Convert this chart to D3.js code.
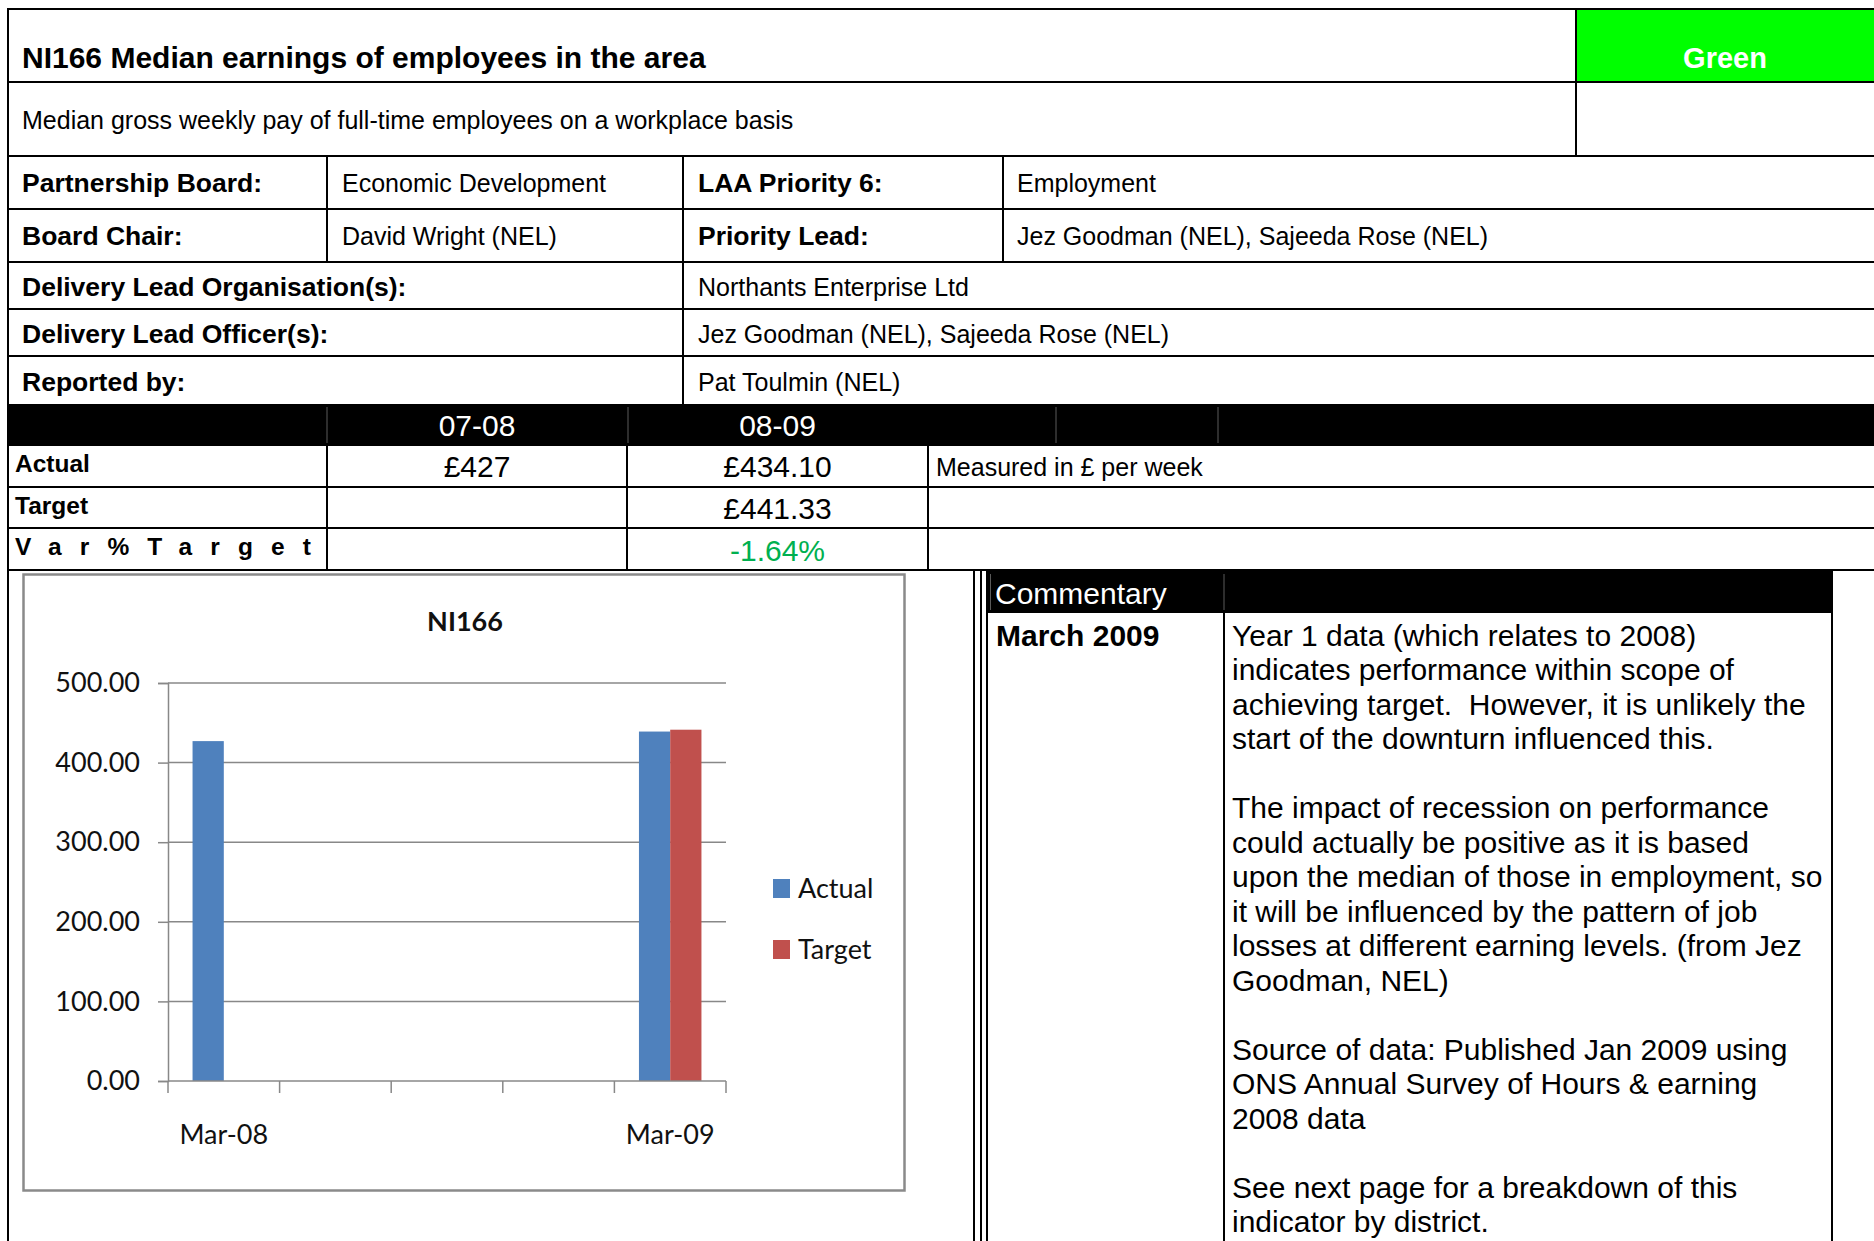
<!DOCTYPE html>
<html><head><meta charset="utf-8">
<script src="https://cdn.jsdelivr.net/npm/d3@7"></script>
<style>
html,body{margin:0;padding:0;background:#fff;overflow:hidden}
svg{display:block}
</style></head>
<body>
<svg id="page" width="1874" height="1241"></svg>
<script>
// ---------------- data ----------------
const indicatorTitle = "NI166 Median earnings of employees in the area";
const indicatorDescription = "Median gross weekly pay of full-time employees on a workplace basis";
const ragStatus = "Green";
const infoLabels = ["Partnership Board:", "Board Chair:", "Delivery Lead Organisation(s):", "Delivery Lead Officer(s):", "Reported by:"];
const infoValues = ["Economic Development", "David Wright (NEL)", "Northants Enterprise Ltd", "Jez Goodman (NEL), Sajeeda Rose (NEL)", "Pat Toulmin (NEL)"];
const priorityLabels = ["LAA Priority 6:", "Priority Lead:"];
const priorityValues = ["Employment", "Jez Goodman (NEL), Sajeeda Rose (NEL)"];
const periods = ["07-08", "08-09"];
const rowLabels = ["Actual", "Target", "Var%Target"];
const actualText = ["£427", "£434.10"];
const targetText = ["", "£441.33"];
const varText = ["", "-1.64%"];
const unitNote = "Measured in £ per week";

const chartTitle = "NI166";
const categories = ["Mar-08", "", "", "", "Mar-09"];
const seriesNames = ["Actual", "Target"];
const actualValues = [427, null, null, null, 439];
const targetValues = [null, null, null, null, 441.33];
const yTicks = [0, 100, 200, 300, 400, 500];

const commentaryHeader = "Commentary";
const commentaryPeriod = "March 2009";
const commentaryLines = [
  "Year 1 data (which relates to 2008)",
  "indicates performance within scope of",
  "achieving target.  However, it is unlikely the",
  "start of the downturn influenced this.",
  "",
  "The impact of recession on performance",
  "could actually be positive as it is based",
  "upon the median of those in employment, so",
  "it will be influenced by the pattern of job",
  "losses at different earning levels. (from Jez",
  "Goodman, NEL)",
  "",
  "Source of data: Published Jan 2009 using",
  "ONS Annual Survey of Hours & earning",
  "2008 data",
  "",
  "See next page for a breakdown of this",
  "indicator by district."
];

// ---------------- helpers ----------------
const svg = d3.select("#page");
const SANS = "'Liberation Sans', Arial, Helvetica, sans-serif";
const CHARTFONT = "Lato, 'Open Sans', sans-serif";
const PW = 1874, PH = 1241;

function hline(yy, x1, x2, col = "#000", w = 2) {
  svg.append("line").attr("x1", x1).attr("x2", x2).attr("y1", yy).attr("y2", yy)
    .attr("stroke", col).attr("stroke-width", w);
}
function vline(xx, y1, y2, col = "#000", w = 2) {
  svg.append("line").attr("x1", xx).attr("x2", xx).attr("y1", y1).attr("y2", y2)
    .attr("stroke", col).attr("stroke-width", w);
}
function txt(parent, xx, yy, s, o = {}) {
  const t = parent.append("text").attr("x", xx).attr("y", yy).text(s)
    .attr("font-family", o.family || SANS).attr("font-size", o.size || 25)
    .attr("font-weight", o.bold ? "bold" : "normal")
    .attr("fill", o.fill || "#000").attr("text-anchor", o.anchor || "start");
  if (o.ls) t.attr("letter-spacing", o.ls);
  if (o.dy) t.attr("dy", o.dy);
  return t;
}

// ---------------- header blocks ----------------
const pageLeft = 8, pageTop = 9;
const greenX = 1576;
svg.append("rect").attr("x", greenX).attr("y", pageTop).attr("width", PW - greenX).attr("height", 82 - pageTop).attr("fill", "#00FF00");
hline(pageTop, pageLeft - 1, PW);
hline(82, pageLeft, PW);
hline(156, pageLeft, PW);
vline(pageLeft, pageTop - 1, PH);
vline(greenX, pageTop, 156);

txt(svg, 22, 68, indicatorTitle, {bold: true, size: 30});
txt(svg, 1725, 68, ragStatus, {bold: true, size: 29, fill: "#fff", anchor: "middle"});
txt(svg, 22, 128.5, indicatorDescription, {size: 25});

// info rows
const infoRowLines = [156, 209, 262, 309, 356, 404];
const infoBaselines = [192, 244.5, 295.5, 343, 390.5];
infoRowLines.slice(1, 5).forEach(yy => hline(yy, pageLeft, PW));
vline(327, 156, 262);
vline(683, 156, 404);
vline(1003, 156, 262);

infoLabels.forEach((s, i) => txt(svg, 22, infoBaselines[i], s, {bold: true, size: 26.5}));
infoValues.forEach((s, i) => txt(svg, i < 2 ? 342 : 698, infoBaselines[i], s, {size: 25}));
priorityLabels.forEach((s, i) => txt(svg, 698, infoBaselines[i], s, {bold: true, size: 26.5}));
priorityValues.forEach((s, i) => txt(svg, 1017, infoBaselines[i], s, {size: 25}));

// period table
svg.append("rect").attr("x", pageLeft).attr("y", 404).attr("width", PW - pageLeft).attr("height", 42).attr("fill", "#000");
[327, 628, 1056, 1218].forEach(xx => vline(xx, 407, 443, "#5a5a5a", 1));
const colCenters = [477, 777.5];
periods.forEach((s, i) => txt(svg, colCenters[i], 436, s, {size: 30, fill: "#fff", anchor: "middle"}));

[487, 528, 570].forEach(yy => hline(yy, pageLeft, PW));
[327, 627, 928].forEach(xx => vline(xx, 446, 570));
const rowBaselines = [472, 513.5, 555];
rowLabels.forEach((s, i) => txt(svg, 15, rowBaselines[i], s, {bold: true, size: 24.5, ls: i === 2 ? 18.1 : null}));
const valBaselines = [477, 518.5, 561];
[actualText, targetText, varText].forEach((arr, r) => arr.forEach((s, i) => {
  if (s) txt(svg, colCenters[i], valBaselines[r], s, {size: 30, anchor: "middle", fill: r === 2 ? "#00B050" : "#000"});
}));
txt(svg, 936, 476, unitNote, {size: 25});

// ---------------- chart ----------------
const box = {x: 23.5, y: 574.5, w: 881, h: 616};
svg.append("rect").attr("x", box.x).attr("y", box.y).attr("width", box.w).attr("height", box.h)
  .attr("fill", "#fff").attr("stroke", "#8a8a8a").attr("stroke-width", 2.5);

const plot = {x0: 168, x1: 726, y0: 1081, y1: 683};
const xScale = d3.scaleBand().domain(d3.range(categories.length)).range([plot.x0, plot.x1])
  .paddingInner(0.44).paddingOuter(0.22);
const xSub = d3.scaleBand().domain(seriesNames).range([0, xScale.bandwidth()]).padding(0);
const yScale = d3.scaleLinear().domain([0, 500]).range([plot.y0, plot.y1]);
const color = d3.scaleOrdinal().domain(seriesNames).range(["#4F81BD", "#C0504D"]);
const gridColor = "#888888";

const g = svg.append("g");
g.selectAll("line.grid").data(yTicks.filter(d => d > 0)).join("line").attr("class", "grid")
  .attr("x1", plot.x0).attr("x2", plot.x1).attr("y1", d => yScale(d)).attr("y2", d => yScale(d))
  .attr("stroke", gridColor).attr("stroke-width", 1.5);

const yAxis = g.append("g").attr("transform", `translate(${plot.x0},0)`)
  .call(d3.axisLeft(yScale).tickValues(yTicks).tickFormat(d3.format(".2f")).tickSize(10).tickPadding(18));
yAxis.select(".domain").attr("stroke", gridColor).attr("stroke-width", 1.5);
yAxis.selectAll(".tick line").attr("stroke", gridColor).attr("stroke-width", 1.5);
yAxis.selectAll(".tick text").attr("font-family", CHARTFONT).attr("font-size", 27).attr("fill", "#111");

const series = [actualValues, targetValues];
seriesNames.forEach((name, si) => {
  g.selectAll(null).data(series[si].map((v, i) => ({i, v})).filter(d => d.v != null)).join("rect")
    .attr("x", d => xScale(d.i) + xSub(name)).attr("width", xSub.bandwidth())
    .attr("y", d => yScale(d.v)).attr("height", d => yScale(0) - yScale(d.v))
    .attr("fill", color(name));
});

const xAxisG = g.append("g").attr("transform", `translate(0,${plot.y0})`);
xAxisG.append("line").attr("x1", plot.x0).attr("x2", plot.x1).attr("y1", 0).attr("y2", 0)
  .attr("stroke", gridColor).attr("stroke-width", 1.5);
const boundaries = d3.range(categories.length + 1).map(k => plot.x0 + k * xScale.step());
xAxisG.selectAll("line.tk").data(boundaries).join("line").attr("class", "tk")
  .attr("x1", d => d).attr("x2", d => d).attr("y1", 0).attr("y2", 12)
  .attr("stroke", gridColor).attr("stroke-width", 1.5);
xAxisG.selectAll("text").data(categories.map((c, i) => ({c, i})).filter(d => d.c)).join("text")
  .attr("x", d => xScale(d.i) + xScale.bandwidth() / 2).attr("y", 54).attr("dy", "0.35em")
  .attr("text-anchor", "middle").attr("font-family", CHARTFONT).attr("font-size", 27).attr("fill", "#111")
  .text(d => d.c);

txt(g, 465, 622, chartTitle, {family: CHARTFONT, size: 27, bold: true, anchor: "middle", dy: "0.35em", fill: "#111"});

const lg = g.append("g").attr("transform", "translate(773,879)");
seriesNames.forEach((name, i) => {
  lg.append("rect").attr("x", 0).attr("y", i * 61).attr("width", 17).attr("height", 19).attr("fill", color(name));
  txt(lg, 25, i * 61 + 9.5, name, {family: CHARTFONT, size: 27, dy: "0.35em", fill: "#111"});
});

// ---------------- commentary ----------------
vline(974, 570, PH);
vline(981, 570, PH);
const cm = {x0: 987, x1: 1832, top: 571, head: 613, div: 1224};
svg.append("rect").attr("x", cm.x0).attr("y", cm.top).attr("width", cm.x1 - cm.x0).attr("height", cm.head - cm.top).attr("fill", "#000");
vline(cm.x0, cm.top, PH);
vline(cm.x1, cm.top, PH);
vline(cm.div, cm.head, PH);
vline(990.5, 574, 610, "#5a5a5a", 1);
vline(cm.div, 574, 610, "#5a5a5a", 1);
txt(svg, 995, 604, commentaryHeader, {size: 30, fill: "#fff"});
txt(svg, 996, 646, commentaryPeriod, {size: 30, bold: true});
svg.append("g").selectAll("text").data(commentaryLines).join("text")
  .attr("x", 1232).attr("y", (d, i) => 645.5 + i * 34.5)
  .attr("font-family", SANS).attr("font-size", 30).attr("fill", "#000")
  .style("white-space", "pre")
  .text(d => d);
</script>
</body></html>
